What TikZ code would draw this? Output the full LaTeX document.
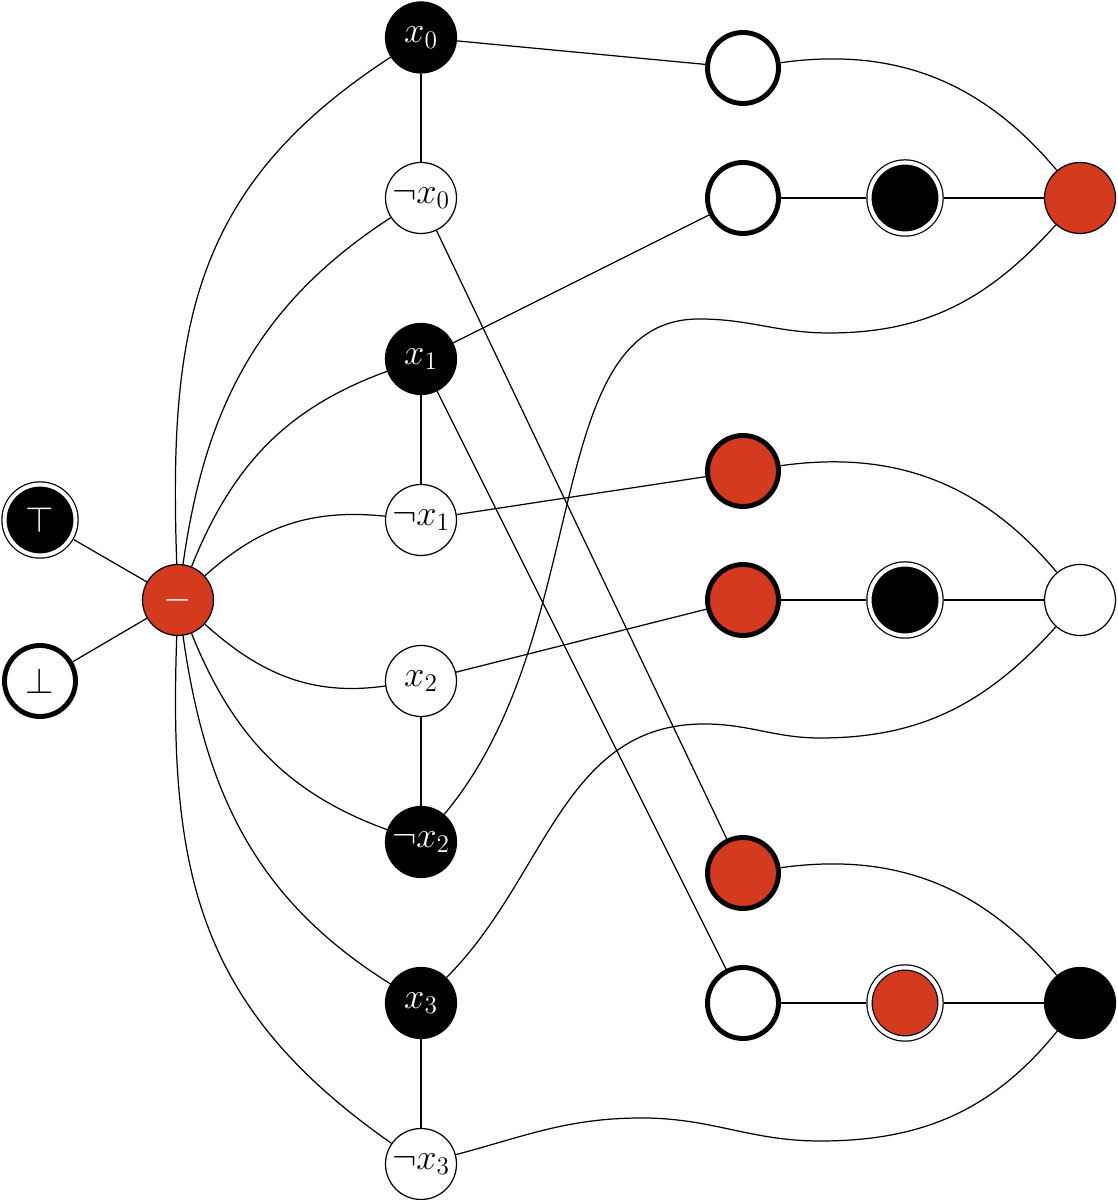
\documentclass[tikz,border=0pt]{standalone}
\usepackage{amsmath,amssymb}
\definecolor{cutred}{RGB}{212,58,30}
\usetikzlibrary{arrows.meta,calc}

\begin{document}
\begin{tikzpicture}[
  vtx/.style={circle,draw,line width=0.7pt,minimum size=1.42cm,inner sep=0pt,font=\huge},
  lit/.style={vtx,fill=black,text=white},
  blank/.style={vtx,fill=white},
  hot/.style={vtx,fill=cutred},
  heavy/.style={line width=2.8pt},
  ring/.style={double=white,double distance=2.3pt,outer sep=2pt},
  wire/.style={line width=0.7pt}
]
  \useasboundingbox (0,0) rectangle (22.34,24);
  % constants and the cut vertex
  \node[lit,ring] (top) at (0.8,13.6) {$\top$};
  \node[blank,heavy] (bot) at (0.8,10.38) {$\bot$};
  \node[hot,text=white] (neg) at (3.56,12) {$-$};
  % literal column
  \node[lit] (x0) at (8.42,23.25) {$x_0$};
  \node[blank] (nx0) at (8.42,20.04) {$\neg x_0$};
  \node[lit] (x1) at (8.42,16.82) {$x_1$};
  \node[blank] (nx1) at (8.42,13.6) {$\neg x_1$};
  \node[blank] (x2) at (8.42,10.38) {$x_2$};
  \node[lit] (nx2) at (8.42,7.16) {$\neg x_2$};
  \node[lit] (x3) at (8.42,3.94) {$x_3$};
  \node[blank] (nx3) at (8.42,0.72) {$\neg x_3$};
  % clause gadgets
  \node[blank,heavy] (a1) at (14.86,22.64) {};
  \node[blank,heavy] (a2) at (14.86,20.04) {};
  \node[hot,heavy] (a3) at (14.86,14.58) {};
  \node[hot,heavy] (a4) at (14.86,12) {};
  \node[hot,heavy] (a5) at (14.86,6.54) {};
  \node[blank,heavy] (a6) at (14.86,3.94) {};
  \node[lit,ring] (b1) at (18.1,20.04) {};
  \node[lit,ring] (b2) at (18.1,12) {};
  \node[hot,ring] (b3) at (18.1,3.94) {};
  \node[hot] (c1) at (21.6,20.04) {};
  \node[blank] (c2) at (21.6,12) {};
  \node[lit] (c3) at (21.6,3.94) {};
  % bends of the long wires
  \coordinate (w1a) at (13.98,17.62);
  \coordinate (w1b) at (16.58,17.34);
  \coordinate (w2a) at (14.08,9.52);
  \coordinate (w2b) at (16.4,9.24);
  \coordinate (w3a) at (12.84,1.64);
  \coordinate (w3b) at (16.4,1.18);

  \draw[wire] (top) -- (neg);
  \draw[wire] (bot) -- (neg);
  \draw[wire] (neg) to[out=92,in=213,looseness=1.1] (x0);
  \draw[wire] (neg) to[out=82,in=213] (nx0);
  \draw[wire] (neg) to[out=68,in=200] (x1);
  \draw[wire] (neg) to[out=42,in=174] (nx1);
  \draw[wire] (neg) to[out=-42,in=188] (x2);
  \draw[wire] (neg) to[out=-68,in=160] (nx2);
  \draw[wire] (neg) to[out=-82,in=148] (x3);
  \draw[wire] (neg) to[out=-92,in=145,looseness=1.1] (nx3);
  \draw[wire] (x0) -- (nx0);
  \draw[wire] (x1) -- (nx1);
  \draw[wire] (x2) -- (nx2);
  \draw[wire] (x3) -- (nx3);
  \draw[wire] (x0) -- (a1);
  \draw[wire] (x1) -- (a2);
  \draw[wire] (nx1) -- (a3);
  \draw[wire] (x2) -- (a4);
  \draw[wire] (nx0) -- (a5);
  \draw[wire] (x1) -- (a6);
  \draw[wire] (a2) -- (b1) -- (c1);
  \draw[wire] (a4) -- (b2) -- (c2);
  \draw[wire] (a6) -- (b3) -- (c3);
  \draw[wire] (a1) to[out=8,in=130] (c1);
  \draw[wire] (a3) to[out=8,in=130] (c2);
  \draw[wire] (a5) to[out=8,in=130] (c3);
  \draw[wire] (c1) to[out=228,in=0] (w1b) to[out=180,in=0] (w1a)
    to[out=180,in=50,out distance=3.2cm,in distance=4.7cm] (nx2);
  \draw[wire] (c2) to[out=228,in=0] (w2b) to[out=180,in=0] (w2a)
    to[out=180,in=45] (x3);
  \draw[wire] (c3) to[out=231,in=0] (w3b) to[out=180,in=0] (w3a)
    to[out=180,in=15] (nx3);
\end{tikzpicture}
\end{document}
